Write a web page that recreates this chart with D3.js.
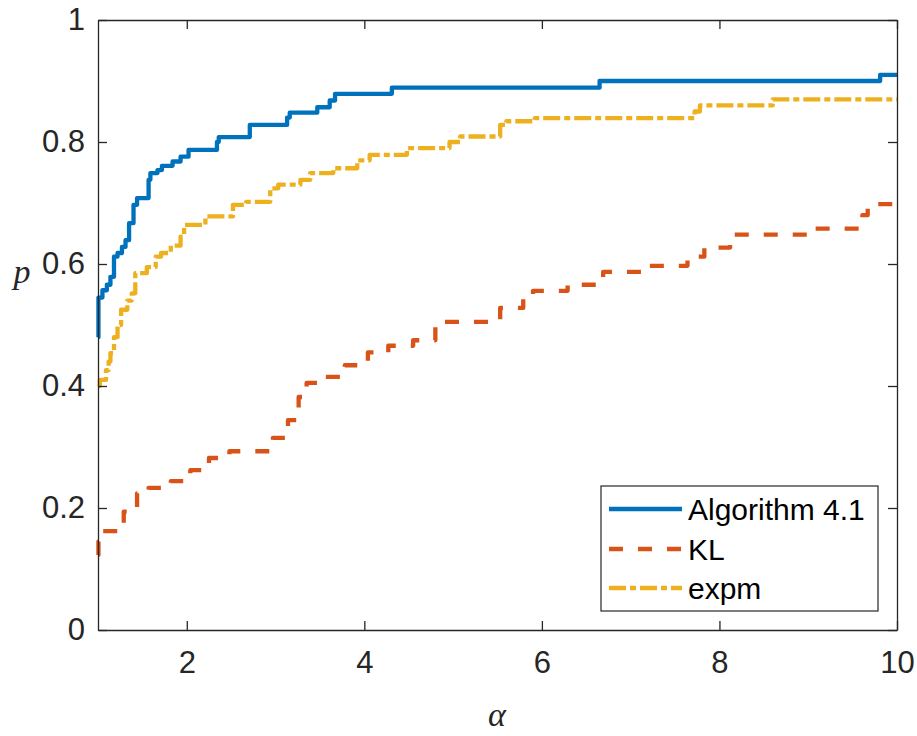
<!DOCTYPE html>
<html>
<head>
<meta charset="utf-8">
<script src="https://cdn.jsdelivr.net/npm/d3@7"></script>
<style>
  html, body { margin: 0; padding: 0; background: #fff; }
  svg { display: block; }
</style>
</head>
<body>
<svg id="chart" width="917" height="736"></svg>
<script>
// ---- data (alpha, p) ----
const seriesNames = ["Algorithm 4.1", "KL", "expm"];
const xTicks = [2, 4, 6, 8, 10];
const yTicks = [0, 0.2, 0.4, 0.6, 0.8, 1];

const algAlpha = [1.00,1.005,1.05,1.10,1.14,1.18,1.22,1.27,1.31,1.35,1.40,1.44,1.57,1.59,1.67,1.72,1.84,1.93,2.02,2.34,2.36,2.71,3.13,3.16,3.47,3.61,3.67,4.31,6.65,9.81,10];
const algP     = [0.48,0.545,0.557,0.566,0.579,0.612,0.618,0.628,0.639,0.667,0.697,0.708,0.738,0.749,0.754,0.761,0.768,0.776,0.787,0.80,0.808,0.828,0.84,0.848,0.857,0.868,0.879,0.889,0.90,0.91,0.91];

const klAlpha = [1.00,1.005,1.05,1.29,1.44,1.57,1.82,2.04,2.25,2.48,2.97,3.14,3.26,3.35,3.50,3.78,4.04,4.27,4.55,4.80,5.53,5.79,5.90,6.29,6.69,7.18,7.64,7.83,8.12,9.04,9.61,9.67,10];
const klP     = [0.123,0.145,0.162,0.194,0.224,0.233,0.244,0.262,0.282,0.293,0.315,0.344,0.382,0.405,0.415,0.434,0.455,0.466,0.475,0.505,0.528,0.546,0.556,0.566,0.587,0.597,0.612,0.627,0.648,0.658,0.68,0.698,0.698];

const expmAlpha = [1.00,1.02,1.09,1.12,1.14,1.18,1.22,1.26,1.33,1.38,1.42,1.55,1.65,1.71,1.82,1.93,1.97,2.21,2.52,2.67,2.94,3.03,3.28,3.39,3.65,3.92,4.06,4.48,4.96,5.08,5.53,5.60,5.92,7.72,7.78,8.60,10];
const expmP     = [0.40,0.41,0.426,0.44,0.454,0.48,0.50,0.525,0.54,0.552,0.585,0.595,0.612,0.618,0.63,0.645,0.664,0.678,0.697,0.702,0.724,0.73,0.738,0.749,0.757,0.77,0.779,0.79,0.80,0.809,0.828,0.834,0.839,0.85,0.86,0.87,0.87];

// ---- layout ----
const svg = d3.select("#chart");
const L = 98, R = 897, T = 20, B = 630;
const axisColor = "#262626";
const font = "'Liberation Sans', Arial, Helvetica, sans-serif";

const x = d3.scaleLinear().domain([1, 10]).range([L, R]);
const y = d3.scaleLinear().domain([0, 1]).range([B, T]);

const series = [
  { name: seriesNames[0], a: algAlpha, p: algP, color: "#0072BD", dash: null },
  { name: seriesNames[1], a: klAlpha, p: klP, color: "#D95319", dash: "14,15" },
  { name: seriesNames[2], a: expmAlpha, p: expmP, color: "#EDB120", dash: "17,4,6,4" }
];

const line = d3.line().x(d => x(d[0])).y(d => y(d[1])).curve(d3.curveStepAfter);

series.forEach(s => {
  const pts = s.a.map((v, i) => [v, s.p[i]]);
  svg.append("path")
    .attr("d", line(pts))
    .attr("fill", "none")
    .attr("stroke", s.color)
    .attr("stroke-width", 4.3)
    .attr("stroke-dasharray", s.dash)
    .attr("stroke-linejoin", "round");
});

// ---- axes (box with inward ticks on all sides) ----
const tickLen = 9;
const gx = svg.append("g").attr("transform", `translate(0,${B})`)
  .call(d3.axisBottom(x).tickValues(xTicks).tickSizeInner(-tickLen).tickSizeOuter(0).tickPadding(21).tickFormat(d3.format("d")));
const gxt = svg.append("g").attr("transform", `translate(0,${T})`)
  .call(d3.axisTop(x).tickValues(xTicks).tickSizeInner(-tickLen).tickSizeOuter(0).tickFormat(""));
const gy = svg.append("g").attr("transform", `translate(${L},0)`)
  .call(d3.axisLeft(y).tickValues(yTicks).tickSizeInner(-tickLen).tickSizeOuter(0).tickPadding(13).tickFormat(d => d === 0 || d === 1 ? d3.format("d")(d) : d3.format(".1f")(d)));
const gyr = svg.append("g").attr("transform", `translate(${R},0)`)
  .call(d3.axisRight(y).tickValues(yTicks).tickSizeInner(-tickLen).tickSizeOuter(0).tickFormat(""));

[gx, gxt, gy, gyr].forEach(g => {
  g.select(".domain").attr("stroke", axisColor).attr("stroke-width", 1.3);
  g.selectAll(".tick line").attr("stroke", axisColor).attr("stroke-width", 1.3);
  g.selectAll(".tick text").attr("fill", axisColor).attr("font-family", font).attr("font-size", 31);
});

// ---- axis labels ----
svg.append("text")
  .attr("x", 22).attr("y", 283)
  .attr("text-anchor", "middle")
  .attr("font-family", "'Liberation Serif', 'DejaVu Serif', serif")
  .attr("font-style", "italic")
  .attr("font-size", 34)
  .attr("fill", axisColor)
  .text("p");
svg.append("text")
  .attr("x", 497).attr("y", 726)
  .attr("text-anchor", "middle")
  .attr("font-family", "'Liberation Serif', 'DejaVu Serif', serif")
  .attr("font-style", "italic")
  .attr("font-size", 34)
  .attr("fill", axisColor)
  .text("α");

// ---- legend ----
const lg = svg.append("g");
lg.append("rect")
  .attr("x", 601).attr("y", 486).attr("width", 277).attr("height", 125)
  .attr("fill", "#fff").attr("stroke", axisColor).attr("stroke-width", 1.2);
const rowY = [509, 549, 588];
series.forEach((s, i) => {
  lg.append("line")
    .attr("x1", 609).attr("x2", 682)
    .attr("y1", rowY[i]).attr("y2", rowY[i])
    .attr("stroke", s.color).attr("stroke-width", 4.3)
    .attr("stroke-dasharray", s.dash);
  lg.append("text")
    .attr("x", 688).attr("y", rowY[i])
    .attr("dy", "0.36em")
    .attr("font-family", font)
    .attr("font-size", 30)
    .attr("fill", "#000")
    .text(s.name);
});
</script>
</body>
</html>
